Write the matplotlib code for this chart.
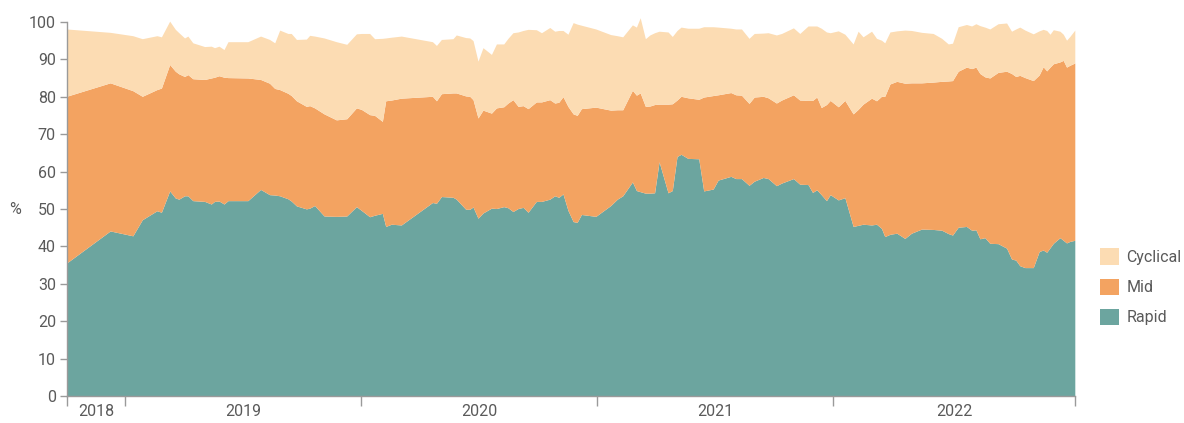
import numpy as np
import matplotlib
matplotlib.use("Agg")
import matplotlib.pyplot as plt

plt.rcParams['font.family'] = ['Roboto', 'DejaVu Sans']

# observation dates as decimal years
years = [2018.754, 2018.939, 2019.035, 2019.075, 2019.137, 2019.156, 2019.191, 2019.215, 2019.230, 2019.254,
         2019.268, 2019.289, 2019.339, 2019.367, 2019.381, 2019.400, 2019.421, 2019.438, 2019.522, 2019.576,
         2019.614, 2019.636, 2019.657, 2019.692, 2019.706, 2019.728, 2019.770, 2019.784, 2019.805, 2019.845,
         2019.897, 2019.941, 2019.982, 2020.003, 2020.038, 2020.059, 2020.092, 2020.106, 2020.130, 2020.172,
         2020.304, 2020.321, 2020.342, 2020.391, 2020.405, 2020.445, 2020.462, 2020.476, 2020.497, 2020.518,
         2020.554, 2020.575, 2020.606, 2020.624, 2020.645, 2020.667, 2020.688, 2020.709, 2020.744, 2020.766,
         2020.801, 2020.822, 2020.839, 2020.857, 2020.878, 2020.900, 2020.917, 2020.935, 2020.996, 2021.059,
         2021.087, 2021.110, 2021.151, 2021.168, 2021.184, 2021.206, 2021.225, 2021.245, 2021.264, 2021.302,
         2021.320, 2021.340, 2021.357, 2021.386, 2021.432, 2021.453, 2021.493, 2021.514, 2021.568, 2021.589,
         2021.613, 2021.645, 2021.667, 2021.705, 2021.726, 2021.761, 2021.783, 2021.833, 2021.860, 2021.895,
         2021.914, 2021.932, 2021.951, 2021.973, 2021.989, 2022.023, 2022.051, 2022.086, 2022.107, 2022.128,
         2022.164, 2022.185, 2022.206, 2022.220, 2022.242, 2022.271, 2022.305, 2022.333, 2022.376, 2022.425,
         2022.461, 2022.489, 2022.507, 2022.531, 2022.566, 2022.588, 2022.606, 2022.623, 2022.644, 2022.665,
         2022.700, 2022.736, 2022.757, 2022.775, 2022.792, 2022.814, 2022.849, 2022.874, 2022.891, 2022.906,
         2022.920, 2022.934, 2022.962, 2022.976, 2022.990, 2023.004, 2023.025]

rapid = [35.4, 44.0, 42.7, 47.0, 49.4, 49.0, 54.7, 52.8, 52.5, 53.4,
         53.4, 52.1, 51.9, 51.2, 51.9, 52.0, 51.2, 52.1, 52.1, 55.1,
         53.7, 53.6, 53.4, 52.6, 52.0, 50.7, 49.9, 50.1, 50.8, 48.0,
         47.9, 48.0, 50.5, 49.5, 47.8, 48.2, 48.7, 45.2, 45.8, 45.6,
         51.6, 51.4, 53.2, 53.0, 52.5, 49.8, 49.8, 50.4, 47.4, 48.8,
         50.1, 50.0, 50.5, 50.2, 49.2, 50.0, 50.3, 49.0, 51.9, 51.9,
         52.5, 53.4, 53.0, 53.9, 49.5, 46.5, 46.3, 48.4, 47.9, 50.8,
         52.5, 53.4, 57.1, 54.8, 54.5, 54.1, 54.1, 54.2, 62.5, 54.2,
         54.8, 63.9, 64.5, 63.4, 63.3, 54.7, 55.2, 57.6, 58.6, 58.0,
         58.0, 56.2, 57.3, 58.3, 58.0, 56.1, 56.8, 58.0, 56.5, 56.4,
         54.3, 55.0, 53.7, 52.1, 53.7, 52.3, 52.9, 45.2, 45.5, 45.8,
         45.6, 45.8, 44.7, 42.5, 43.1, 43.4, 42.0, 43.4, 44.5, 44.4,
         44.2, 43.3, 42.9, 45.0, 45.2, 44.2, 44.3, 41.9, 42.2, 40.7,
         40.6, 39.4, 36.5, 36.2, 34.7, 34.2, 34.2, 38.5, 38.9, 38.3,
         39.5, 40.7, 42.2, 41.5, 40.8, 41.2, 41.5]

mid = [44.6, 39.6, 38.8, 33.0, 32.4, 33.2, 33.8, 33.9, 33.5, 31.9,
       32.4, 32.6, 32.6, 33.7, 33.2, 33.5, 33.9, 32.9, 32.8, 29.4,
       29.8, 28.5, 28.4, 28.2, 28.2, 28.1, 27.4, 27.4, 26.1, 27.3,
       25.8, 26.0, 26.4, 27.0, 27.3, 26.7, 24.6, 33.6, 33.2, 33.9,
       28.4, 27.4, 27.5, 27.9, 28.4, 30.3, 30.2, 28.7, 26.8, 27.5,
       25.4, 26.9, 26.7, 28.0, 29.9, 27.3, 27.2, 27.7, 26.6, 26.6,
       26.6, 24.8, 25.4, 26.0, 27.8, 28.8, 28.6, 28.3, 29.2, 25.5,
       23.9, 23.0, 24.5, 25.5, 26.4, 23.2, 23.3, 23.6, 15.4, 23.7,
       23.2, 15.1, 15.5, 16.2, 15.9, 25.1, 25.0, 22.8, 22.4, 22.4,
       22.3, 21.9, 22.5, 21.7, 21.6, 22.1, 22.2, 22.4, 22.5, 22.5,
       24.6, 24.8, 23.3, 25.7, 25.2, 24.9, 26.0, 30.1, 31.0, 32.1,
       33.9, 33.0, 35.3, 37.5, 40.2, 40.6, 41.5, 40.2, 39.1, 39.4,
       39.8, 40.8, 41.3, 41.7, 42.6, 43.2, 43.5, 44.2, 43.0, 44.2,
       45.8, 47.3, 49.6, 49.1, 50.9, 50.8, 50.0, 47.2, 49.0, 48.5,
       48.3, 48.0, 47.0, 48.1, 47.0, 47.1, 47.4]

cyclical = [18.0, 13.5, 14.7, 15.4, 14.4, 13.7, 11.6, 11.2, 11.0, 10.3,
            10.3, 9.6, 8.8, 8.5, 7.9, 7.9, 7.4, 9.6, 9.7, 11.6,
            11.7, 12.2, 15.9, 16.0, 16.6, 16.4, 18.0, 18.8, 19.2, 20.3,
            20.9, 19.9, 19.8, 20.3, 21.7, 20.5, 22.2, 16.8, 16.8, 16.6,
            14.6, 14.8, 14.5, 14.5, 15.5, 15.6, 15.6, 15.8, 15.2, 16.7,
            15.7, 17.1, 16.8, 17.3, 17.9, 19.9, 20.1, 21.2, 19.3, 18.5,
            19.3, 19.2, 19.2, 17.7, 19.3, 24.4, 24.4, 22.3, 20.9, 20.2,
            19.8, 19.5, 17.5, 18.2, 20.1, 18.1, 19.0, 19.2, 19.5, 19.3,
            18.0, 18.6, 18.5, 18.6, 19.0, 18.8, 18.4, 18.1, 17.2, 17.6,
            17.7, 17.4, 17.0, 16.9, 17.4, 18.2, 17.8, 17.9, 17.8, 19.9,
            19.9, 19.0, 21.2, 19.4, 18.1, 20.3, 17.7, 18.7, 20.9, 18.0,
            17.9, 16.7, 15.0, 14.3, 13.9, 13.5, 14.2, 14.0, 13.5, 13.0,
            11.5, 9.9, 10.0, 11.9, 11.4, 11.4, 11.6, 12.8, 13.3, 13.1,
            13.0, 12.9, 11.3, 12.7, 12.9, 12.7, 12.5, 11.8, 10.0, 10.8,
            8.8, 9.1, 8.2, 7.0, 7.2, 7.7, 8.8]

labels = ['Rapid', 'Mid', 'Cyclical']
colors = ['#6CA59F', '#F3A361', '#FCDCB3']
year_labels = ['2018', '2019', '2020', '2021', '2022']
year_breaks = [2019, 2020, 2021, 2022]

text_color = '#5a5a5a'
axis_color = '#9a9a9a'

fig = plt.figure(figsize=(11.84, 4.23), dpi=100)
ax = fig.add_axes([0.0566, 0.0638, 0.8516, 0.8842])

polys = ax.stackplot(years, rapid, mid, cyclical, labels=labels, colors=colors, linewidth=0)
for p in polys:
    p.set_clip_on(False)

ax.set_xlim(years[0], years[-1])
ax.set_ylim(0, 100)
ax.set_yticks(np.arange(0, 101, 10))
ax.tick_params(axis='y', colors=axis_color, labelcolor=text_color, labelsize=11.5, length=5, width=1, pad=3)
ax.set_ylabel('%', rotation=0, color=text_color, fontsize=11.5, labelpad=10, va='center')

# year boundaries as ticks, labels centred between them
edges = [years[0]] + year_breaks + [years[-1]]
ax.set_xticks(edges)
ax.set_xticklabels([''] * len(edges))
mids = [(a + b) / 2 for a, b in zip(edges[:-1], edges[1:])]
ax.set_xticks(mids, minor=True)
ax.set_xticklabels(year_labels, minor=True)
ax.tick_params(axis='x', which='major', colors=axis_color, length=7, width=1)
ax.tick_params(axis='x', which='minor', length=0, labelcolor=text_color, labelsize=11.5, pad=6)

for side in ['top', 'right']:
    ax.spines[side].set_visible(False)
for side in ['left', 'bottom']:
    ax.spines[side].set_color(axis_color)
    ax.spines[side].set_linewidth(1)

handles, leg_labels = ax.get_legend_handles_labels()
fig.legend(handles[::-1], leg_labels[::-1], loc='center left', bbox_to_anchor=(0.917, 0.322),
           frameon=False, fontsize=11.5, labelcolor=text_color, handlelength=1.2, handleheight=1.2,
           handletextpad=0.45, labelspacing=0.85)

fig.savefig('out.png', dpi=100)
